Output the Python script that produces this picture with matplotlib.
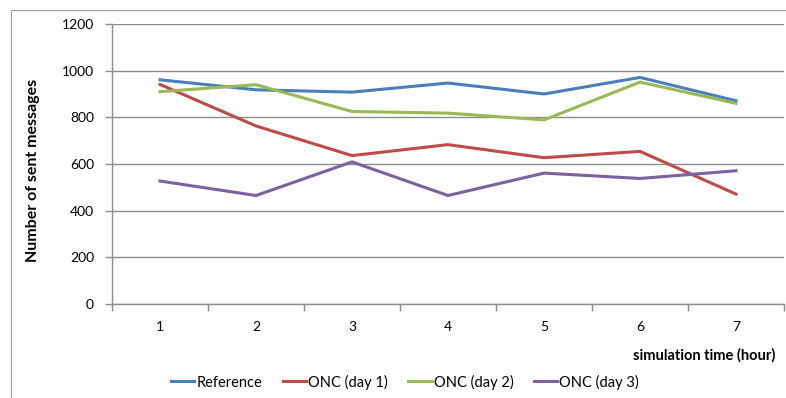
import numpy as np
import matplotlib.pyplot as plt
from matplotlib.patches import Rectangle

plt.rcParams['font.family'] = ['Lato', 'DejaVu Sans']

hours = [1, 2, 3, 4, 5, 6, 7]
reference = [961, 918, 908, 947, 900, 971, 871]
onc_day1 = [941, 763, 636, 683, 627, 654, 471]
onc_day2 = [910, 940, 825, 818, 789, 951, 860]
onc_day3 = [527, 465, 609, 465, 561, 538, 571]
series_names = ['Reference', 'ONC (day 1)', 'ONC (day 2)', 'ONC (day 3)']
colors = ['#4A7EBB', '#BE4B48', '#98B954', '#7D60A0']

fig = plt.figure(figsize=(7.86, 3.98), dpi=100)
W, H = 786, 398
ax = fig.add_axes([112 / W, 1 - 304 / H, (784 - 112) / W, (304 - 24) / H])

# chart border like the spreadsheet frame
fig.patches.append(Rectangle((11 / W, -0.05), 1.0, 1 - 10 / H + 0.05, transform=fig.transFigure,
                             fill=False, edgecolor='#A0A0A0', linewidth=0.8))

x = np.arange(len(hours))
for vals, name, c in zip([reference, onc_day1, onc_day2, onc_day3], series_names, colors):
    ax.plot(x, vals, color=c, linewidth=2.2, label=name, solid_joinstyle='round')

ax.set_xlim(-0.5, len(hours) - 0.5)
ax.set_ylim(0, 1200)
ax.set_yticks(range(0, 1201, 200))
ax.yaxis.grid(True, color='#8C8C8C', linewidth=1)
ax.set_axisbelow(True)

ax.set_xticks(x)
ax.set_xticklabels([str(h) for h in hours])
ax.set_xticks(np.arange(-0.5, len(hours)), minor=True)
ax.tick_params(axis='x', which='major', length=0, pad=12, labelsize=10)
ax.tick_params(axis='x', which='minor', length=5, color='#8C8C8C', width=1)
ax.tick_params(axis='y', length=5, color='#8C8C8C', width=1, pad=8, labelsize=10)

for s in ['top', 'right']:
    ax.spines[s].set_visible(False)
for s in ['left', 'bottom']:
    ax.spines[s].set_color('#8C8C8C')
    ax.spines[s].set_linewidth(1)

fig.text(33 / W, 1 - 170 / H, 'Number of sent messages', rotation=90, ha='center', va='center',
         fontsize=11.5, fontweight='bold')
fig.text(775 / W, 1 - 355 / H, 'simulation time (hour)', ha='right', va='center',
         fontsize=10.5, fontweight='bold')

fig.legend(loc='center', bbox_to_anchor=(405 / W, 1 - 382 / H), ncol=4, frameon=False,
           fontsize=10.5, handlelength=1.6, handletextpad=0.15, columnspacing=1.4)

fig.savefig('out.png', dpi=100)
